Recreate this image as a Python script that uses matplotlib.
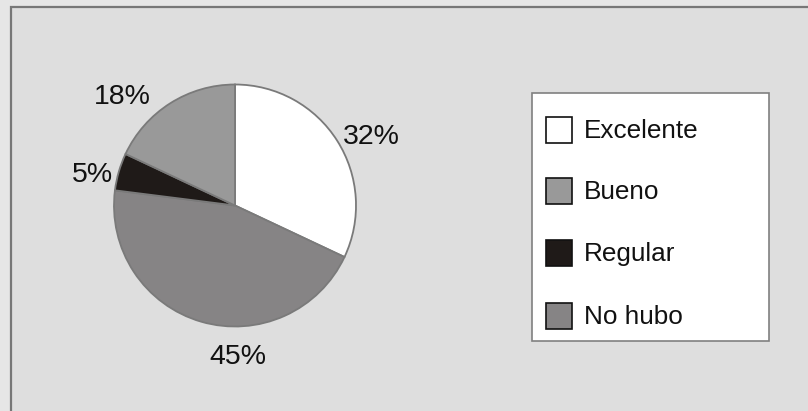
import matplotlib
matplotlib.use("Agg")
import matplotlib.pyplot as plt
from matplotlib.patches import Rectangle

categories = ["Excelente", "Bueno", "Regular", "No hubo"]
values = [32, 45, 5, 18]
pct_labels = ["32%", "45%", "5%", "18%"]
slice_colors = ["#ffffff", "#868485", "#1f1a18", "#999999"]
legend_colors = ["#ffffff", "#999999", "#1f1a18", "#868485"]

W, H = 808, 411
fig = plt.figure(figsize=(W / 100, H / 100), dpi=100, facecolor="#e6e6e6")

# overlay axes in pixel coordinates
bg = fig.add_axes([0, 0, 1, 1])
bg.set_xlim(0, W)
bg.set_ylim(H, 0)
bg.axis("off")
bg.add_patch(Rectangle((11, 7), W + 20, H + 20, facecolor="#dedede",
                       edgecolor="#777777", lw=1.6))

# pie
cx, cy, r = 235, 205.5, 121
pax = fig.add_axes([(cx - r) / W, (H - cy - r) / H, 2 * r / W, 2 * r / H])
wedges, _ = pax.pie(values, colors=slice_colors, startangle=90, counterclock=False,
                    wedgeprops=dict(edgecolor="#7a7a7a", linewidth=1.3))
pax.set_xlim(-1, 1)
pax.set_ylim(-1, 1)
pax.set_aspect("equal")
pax.axis("off")

label_pos = [(1.13, 0.57), (0.02, -1.25), (-1.18, 0.25), (-0.93, 0.90)]
for (lx, ly), t in zip(label_pos, pct_labels):
    pax.text(lx, ly, t, ha="center", va="center", fontsize=20.5,
             family="Liberation Sans", color="#111111", clip_on=False)

# legend
bg.add_patch(Rectangle((532, 93), 237, 248, facecolor="white",
                       edgecolor="#808080", lw=1.2))
rows_y = [130, 191, 253, 316]
for y, c, name in zip(rows_y, legend_colors, categories):
    bg.add_patch(Rectangle((546, y - 13), 26, 26, facecolor=c,
                           edgecolor="#111111", lw=1.2))
    bg.text(584, y + 1, name, ha="left", va="center", fontsize=18.8,
            family="Liberation Sans", color="#111111")

fig.savefig("out.png", dpi=100, facecolor=fig.get_facecolor())
